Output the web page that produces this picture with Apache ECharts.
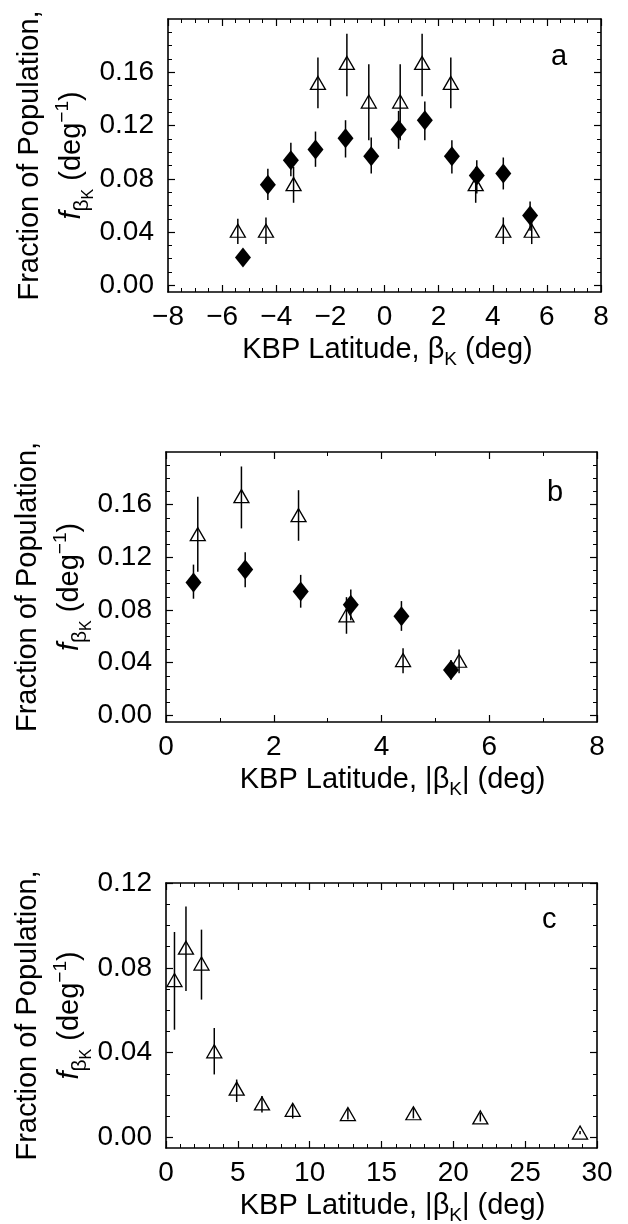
<!DOCTYPE html>
<html>
<head>
<meta charset="utf-8">
<script src="https://cdn.jsdelivr.net/npm/echarts@6/dist/echarts.min.js"></script>
<style>
html, body { margin: 0; padding: 0; background: #fff; }
#chart { width: 628px; height: 1224px; }
</style>
</head>
<body>
<div id="chart"></div>
<script>
// panel a: latitude -8..8, open triangles and filled diamonds
var aTriX  = [-5.42, -4.38, -3.36, -2.46, -1.39, -0.58, 0.58, 1.39, 2.45, 3.37, 4.39, 5.44];
var aTriY  = [0.041, 0.041, 0.076, 0.152, 0.167, 0.138, 0.138, 0.167, 0.152, 0.076, 0.041, 0.041];
var aTriLo = [0.031, 0.031, 0.062, 0.133, 0.142, 0.109, 0.109, 0.142, 0.133, 0.062, 0.031, 0.031];
var aTriHi = [0.050, 0.051, 0.089, 0.171, 0.189, 0.166, 0.166, 0.189, 0.171, 0.089, 0.051, 0.050];

var aDiaX  = [-5.23, -4.31, -3.46, -2.55, -1.44, -0.49, 0.52, 1.49, 2.49, 3.41, 4.39, 5.38];
var aDiaY  = [0.021, 0.0755, 0.094, 0.102, 0.1105, 0.097, 0.117, 0.124, 0.097, 0.0825, 0.084, 0.0525];
var aDiaLo = [0.021, 0.064, 0.082, 0.089, 0.096, 0.084, 0.1025, 0.109, 0.084, 0.069, 0.072, 0.041];
var aDiaHi = [0.021, 0.0875, 0.107, 0.1155, 0.124, 0.111, 0.131, 0.138, 0.109, 0.094, 0.096, 0.063];

// panel b: |latitude| 0..8
var bTriX  = [0.59, 1.40, 2.46, 3.35, 4.40, 5.44];
var bTriY  = [0.1376, 0.1665, 0.152, 0.076, 0.042, 0.0415];
var bTriLo = [0.109, 0.142, 0.1326, 0.062, 0.032, 0.032];
var bTriHi = [0.166, 0.189, 0.171, 0.0898, 0.051, 0.050];

var bDiaX  = [0.51, 1.47, 2.50, 3.43, 4.37, 5.29];
var bDiaY  = [0.101, 0.1107, 0.094, 0.084, 0.0752, 0.0345];
var bDiaLo = [0.0886, 0.0974, 0.0818, 0.0722, 0.0642, 0.027];
var bDiaHi = [0.1145, 0.1238, 0.1067, 0.0956, 0.0868, 0.042];

// panel c: |latitude| 0..30
var cTriX  = [0.59, 1.39, 2.47, 3.36, 4.92, 6.68, 8.82, 12.66, 17.22, 21.88, 28.82];
var cTriY  = [0.0742, 0.0895, 0.082, 0.0406, 0.023, 0.016, 0.013, 0.011, 0.0114, 0.0094, 0.0023];
var cTriLo = [0.0508, 0.069, 0.065, 0.0297, 0.0167, 0.0117, 0.0089, 0.0085, 0.009, 0.0075, 0.0015];
var cTriHi = [0.0969, 0.1089, 0.098, 0.0516, 0.0273, 0.0195, 0.0156, 0.0135, 0.0138, 0.0115, 0.003];

// tick labels
var yTicksAB = [0, 0.04, 0.08, 0.12, 0.16];
var yTicksC  = [0, 0.04, 0.08, 0.12];

var FONT = '"Liberation Sans", Arial, Helvetica, sans-serif';
var LBL = 28;
var TTL = 29;

var myChart = echarts.init(document.getElementById('chart'));

var grids = [
    { left: 168, right: 27, top: 19, bottom: 932, outerBoundsMode: 'none' },
    { left: 166, right: 31, top: 452, bottom: 502, outerBoundsMode: 'none' },
    { left: 166, right: 31, top: 883, bottom: 76, outerBoundsMode: 'none' }
];

var xTitles = [
    'KBP Latitude, β{k|K} (deg)',
    'KBP Latitude, |β{k|K}| (deg)',
    'KBP Latitude, |β{k|K}| (deg)'
];
var xTitleShift = [6, 22, 22];
var xRange = [[-8, 8, 2, 4], [0, 8, 2, 2], [0, 30, 5, 5]];
var yRange = [[-0.005, 0.2, yTicksAB], [-0.005, 0.2, yTicksAB], [-0.005, 0.12, yTicksC]];

var yTitle = 'Fraction of Population,\n{it|f}{s1|β}{s2|K}{n| (deg}{sup|−1}{n|)}';

function minorVals(min, max, majors) {
    var out = [];
    for (var v = 0; v <= max + 1e-9; v += 0.01) {
        var r = Math.round(v * 1000) / 1000;
        if (majors.indexOf(r) < 0 && r >= min && r < max - 1e-9) out.push(r);
    }
    return out;
}

var lineSt = { color: '#000', width: 1.6 };
var xAxes = [], yAxes = [];
grids.forEach(function (g, i) {
    var xr = xRange[i];
    [ 'bottom', 'top' ].forEach(function (pos) {
        xAxes.push({
            gridIndex: i, type: 'value', position: pos,
            min: xr[0], max: xr[1], interval: xr[2],
            axisLine: { onZero: false, lineStyle: lineSt },
            axisTick: { inside: true, length: 7, lineStyle: { color: '#000', width: 1.2 } },
            minorTick: { show: true, splitNumber: xr[3], length: 4, lineStyle: { color: '#000', width: 1 } },
            splitLine: { show: false },
            axisLabel: {
                show: pos === 'bottom', margin: 11, fontSize: LBL, fontFamily: FONT, color: '#000',
                formatter: function (v) { return v < 0 ? '\u2212' + (-v) : String(v); }
            },
            name: pos === 'bottom' ? xTitles[i] : '',
            nameLocation: 'middle', nameGap: 39, nameMoveOverlap: false,
            nameTextStyle: {
                fontSize: TTL, fontFamily: FONT, color: '#000',
                padding: [0, 0, 0, xTitleShift[i]],
                rich: { k: { fontSize: 19, fontFamily: FONT, color: '#000', padding: [19, 0, 0, 0] } }
            }
        });
    });
    var yr = yRange[i];
    var minors = minorVals(yr[0], yr[1], yr[2]);
    [['left', true], ['right', true], ['left', false], ['right', false]].forEach(function (d) {
        var major = d[1];
        var showName = major && d[0] === 'left';
        yAxes.push({
            gridIndex: i, type: 'value', position: d[0],
            min: yr[0], max: yr[1],
            axisLine: { show: major, onZero: false, lineStyle: lineSt },
            axisTick: {
                inside: true, length: major ? 7 : 4,
                customValues: major ? yr[2] : minors,
                lineStyle: { color: '#000', width: major ? 1.2 : 1 }
            },
            splitLine: { show: false },
            axisLabel: {
                show: showName, customValues: yr[2], margin: 14,
                fontSize: LBL, fontFamily: FONT, color: '#000',
                formatter: function (v) { return v.toFixed(2); }
            },
            name: showName ? yTitle : '',
            nameLocation: 'middle', nameRotate: 90, nameGap: 75, nameMoveOverlap: false,
            nameTextStyle: {
                fontSize: TTL, fontFamily: FONT, color: '#000', align: 'center', lineHeight: 42,
                rich: {
                    it: { fontSize: TTL, fontFamily: FONT, fontStyle: 'italic', color: '#000' },
                    s1: { fontSize: 21, fontFamily: FONT, color: '#000', padding: [20, 0, 0, 0] },
                    s2: { fontSize: 16, fontFamily: FONT, color: '#000', padding: [34, 0, 0, 0] },
                    n: { fontSize: TTL, fontFamily: FONT, color: '#000' },
                    sup: { fontSize: 19, fontFamily: FONT, color: '#000', padding: [0, 0, 18, 0] }
                }
            }
        });
    });
});

function pts(xs, ys) {
    return xs.map(function (x, i) { return [x, ys[i]]; });
}

function errBars(gi, xs, lo, hi) {
    return {
        type: 'custom', xAxisIndex: gi * 2, yAxisIndex: gi * 4, silent: true, z: 1,
        data: xs.map(function (x, i) { return [x, lo[i], hi[i]]; }),
        renderItem: function (params, api) {
            var p1 = api.coord([api.value(0), api.value(1)]);
            var p2 = api.coord([api.value(0), api.value(2)]);
            return {
                type: 'line',
                shape: { x1: p1[0], y1: p1[1], x2: p2[0], y2: p2[1] },
                style: { stroke: '#000', lineWidth: 1.5 }
            };
        }
    };
}

function tri(gi, xs, ys) {
    return {
        type: 'scatter', xAxisIndex: gi * 2, yAxisIndex: gi * 4, z: 3,
        symbol: 'triangle', symbolSize: [15, 13],
        itemStyle: { color: 'rgba(0,0,0,0)', borderColor: '#000', borderWidth: 1.3, opacity: 1 },
        data: pts(xs, ys)
    };
}

function dia(gi, xs, ys) {
    return {
        type: 'scatter', xAxisIndex: gi * 2, yAxisIndex: gi * 4, z: 4,
        symbol: 'diamond', symbolSize: [16, 20],
        itemStyle: { color: '#000', opacity: 1 },
        data: pts(xs, ys)
    };
}

var option = {
    animation: false,
    backgroundColor: '#fff',
    grid: grids,
    xAxis: xAxes,
    yAxis: yAxes,
    graphic: [
        { type: 'text', left: 551, top: 42, style: { text: 'a', font: TTL + 'px ' + FONT, fill: '#000' } },
        { type: 'text', left: 547, top: 478, style: { text: 'b', font: TTL + 'px ' + FONT, fill: '#000' } },
        { type: 'text', left: 542, top: 905, style: { text: 'c', font: TTL + 'px ' + FONT, fill: '#000' } }
    ],
    series: [
        errBars(0, aTriX, aTriLo, aTriHi),
        errBars(0, aDiaX, aDiaLo, aDiaHi),
        tri(0, aTriX, aTriY),
        dia(0, aDiaX, aDiaY),
        errBars(1, bTriX, bTriLo, bTriHi),
        errBars(1, bDiaX, bDiaLo, bDiaHi),
        tri(1, bTriX, bTriY),
        dia(1, bDiaX, bDiaY),
        errBars(2, cTriX, cTriLo, cTriHi),
        tri(2, cTriX, cTriY)
    ]
};
myChart.setOption(option);
</script>
</body>
</html>
